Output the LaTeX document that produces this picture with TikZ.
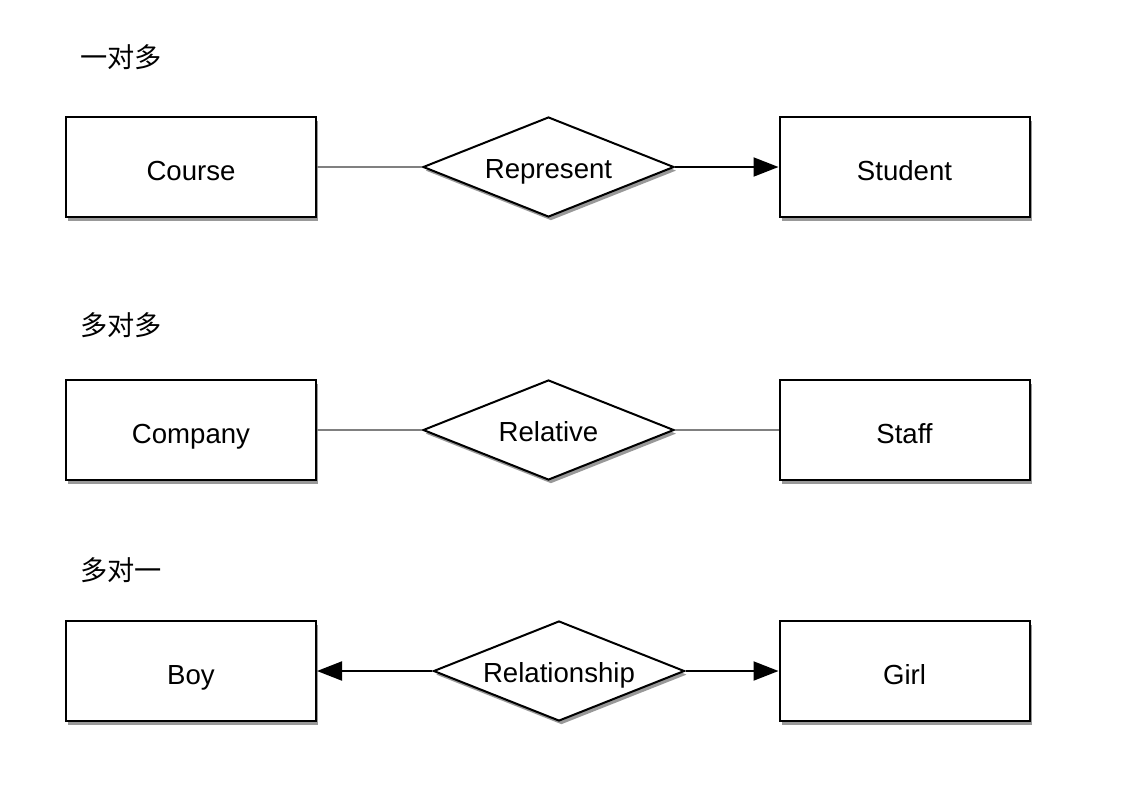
\documentclass[tikz,border=0pt]{standalone}
\usepackage{fontspec}
\setmainfont{Liberation Sans}
\newfontfamily\cjk{Noto Sans CJK SC}
\usetikzlibrary{shapes.geometric,arrows.meta,shadows}
\begin{document}
\begin{tikzpicture}[x=0.5pt,y=-0.5pt,
  shad/.style={drop shadow={shadow xshift=1.2pt,shadow yshift=-1.8pt,opacity=0.4,fill=black}},
  entity/.style={draw=black,line width=1pt,fill=white,rectangle,minimum width=125pt,minimum height=50pt,inner sep=0pt,text height=13pt,text depth=0pt,font=\fontsize{13.8}{15}\selectfont,shad},
  rel/.style={draw=black,line width=1pt,fill=white,diamond,shape aspect=2.5,minimum width=125.5pt,minimum height=50pt,inner sep=0pt,text height=11pt,text depth=0pt,font=\fontsize{13.8}{15}\selectfont,shad},
  title/.style={anchor=west,inner sep=0pt,font=\cjk\fontsize{13.6}{15}\selectfont},
  weak/.style={draw=black!50,line width=0.9pt},
  strong/.style={draw=black,line width=1pt,-{Triangle[length=12.5pt,width=9.5pt]}}]
\useasboundingbox[fill=white] (0,0) rectangle (1136,794);
% row 1
\node[title] (t1) at (80,57) {一对多};
\node[entity] (course) at (191,167) {Course};
\node[rel] (represent) at (548.5,167) {Represent};
\node[entity] (student) at (904.5,167) {Student};
\draw[weak] (course) -- (represent);
\draw[strong] (represent) -- (student);
% row 2
\node[title] (t2) at (80,325) {多对多};
\node[entity] (company) at (191,430) {Company};
\node[rel] (relative) at (548.5,430) {Relative};
\node[entity] (staff) at (904.5,430) {Staff};
\draw[weak] (company) -- (relative);
\draw[weak] (relative) -- (staff);
% row 3
\node[title] (t3) at (80,570) {多对一};
\node[entity] (boy) at (191,671) {Boy};
\node[rel] (relationship) at (559,671) {Relationship};
\node[entity] (girl) at (904.5,671) {Girl};
\draw[strong] (relationship) -- (boy);
\draw[strong] (relationship) -- (girl);
\end{tikzpicture}
\end{document}
